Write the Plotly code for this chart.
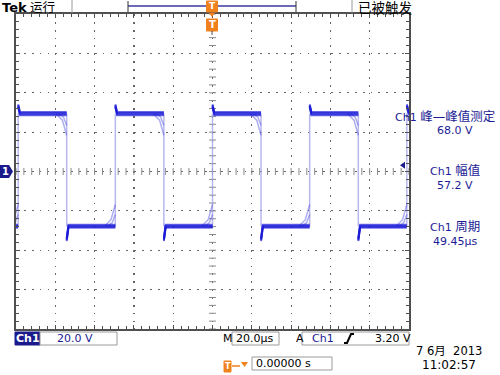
import plotly.graph_objects as go

W, H = 500, 375

# ---------------- data ----------------
rise_times_us = [-98.9, -49.45, 0.0, 49.45, 98.9]
fall_times_us = [-74.2, -24.75, 24.7, 74.2]
high_level_v = 29.4
low_level_v = -27.8
overshoot_v = 33.4
undershoot_v = -34.6
capture_offsets_v = [-0.8, -0.4, 0.0, 0.4, 0.8]
tail_dt_us = [4.0, 5.5]
tail_dv_v = [6.0, 11.0]
trigger_level_v = 3.20
x_range_us = [-100, 100]   # 20 µs/div, 10 div
y_range_v = [-80, 80]      # 20 V/div, 8 div

measure_labels = ["峰—峰值测定", "幅值", "周期"]
measure_values = ["68.0 V", "57.2 V", "49.45µs"]
ch1_scale = "20.0 V"
time_scale = "20.0µs"
trig_level_txt = "3.20 V"
trig_pos_txt = "0.00000 s"
date_txt = "7 6月  2013"
time_txt = "11:02:57"

NAVY = "#1a1a8c"
TXT = "#1c1c96"
ORANGE = "#f0821e"
FONT = "DejaVu Sans, Noto Sans CJK SC"


def px(x):
    return x / W


def py(y):
    return 1 - y / H


fig = go.Figure()

# centre cross tick marks
cross_x = [x_range_us[0] + 4 * i for i in range(51)]
cross_y = [y_range_v[0] + 4 * i for i in range(41)]
fig.add_trace(go.Scatter(x=cross_x, y=[0] * len(cross_x), mode="markers",
                         marker=dict(symbol="line-ns", size=5, line=dict(width=1, color="#8a8a8a")),
                         hoverinfo="skip"))
fig.add_trace(go.Scatter(x=[0] * len(cross_y), y=cross_y, mode="markers",
                         marker=dict(symbol="line-ew", size=5, line=dict(width=1, color="#8a8a8a")),
                         hoverinfo="skip"))

edges = sorted([(t, "r") for t in rise_times_us] + [(t, "f") for t in fall_times_us])

# faint vertical edges
ex, ey = [], []
for t, k in edges:
    ex += [t, t, None]
    ey += [low_level_v, high_level_v, None]
fig.add_trace(go.Scatter(x=ex, y=ey, mode="lines",
                         line=dict(color="rgba(160,160,232,0.75)", width=1.5), hoverinfo="skip"))

# sag / jitter tails before edges
tx, ty = [], []
for t, k in edges:
    for dt, dv in zip(tail_dt_us, tail_dv_v):
        if k == "f":
            tx += [t - dt, t - dt * 0.4, t, None]
            ty += [high_level_v, high_level_v - dv * 0.3, high_level_v - dv, None]
        else:
            tx += [t - dt, t - dt * 0.4, t, None]
            ty += [low_level_v, low_level_v + dv * 0.3, low_level_v + dv, None]
fig.add_trace(go.Scatter(x=tx, y=ty, mode="lines",
                         line=dict(color="rgba(50,50,220,0.4)", width=1.5), hoverinfo="skip"))

# persistence captures of the levels
for off in capture_offsets_v:
    xs, ys = [], []
    cur = low_level_v
    xs.append(x_range_us[0]); ys.append(cur + off)
    for t, k in edges:
        xs += [t, None]
        ys += [cur + off, None]
        if k == "r":
            new, spike = high_level_v, overshoot_v
        else:
            new, spike = low_level_v, undershoot_v
        xs += [t, t + 0.9]
        ys += [spike + off, new + off]
        cur = new
    xs.append(x_range_us[1]); ys.append(cur + off)
    fig.add_trace(go.Scatter(x=xs, y=ys, mode="lines",
                             line=dict(color="rgba(25,25,215,0.6)", width=2), hoverinfo="skip"))

axis_common = dict(showticklabels=False, showline=True, linecolor="#505050", linewidth=2,
                   mirror="allticks", ticks="inside", ticklen=4, tickcolor="#505050",
                   showgrid=True, gridcolor="#666666", gridwidth=1.2, zeroline=False,
                   fixedrange=True)
fig.update_xaxes(range=x_range_us, domain=[px(16), px(409)], dtick=20, tick0=0,
                 griddash="1.8px,6.06px",
                 minor=dict(ticks="inside", dtick=4, ticklen=3, tickcolor="#505050", showgrid=False),
                 **axis_common)
fig.update_yaxes(range=y_range_v, domain=[py(329), py(14)], dtick=20, tick0=0,
                 griddash="1.8px,6.08px",
                 minor=dict(ticks="inside", dtick=4, ticklen=3, tickcolor="#505050", showgrid=False),
                 **axis_common)

shapes = []
ann = []


def text(x, y, s, size=11, color="black", anchor="center", bold=False):
    ann.append(dict(x=px(x), y=py(y), xref="paper", yref="paper", text=s, showarrow=False,
                    xanchor=anchor, yanchor="middle",
                    font=dict(family=FONT, size=size, color=color, weight="bold" if bold else "normal")))


def rect(x0, y0, x1, y1, fill="white", line="#9a9a9a", lw=1):
    shapes.append(dict(type="rect", xref="paper", yref="paper",
                       x0=px(x0), x1=px(x1), y0=py(y1), y1=py(y0),
                       fillcolor=fill, line=dict(color=line, width=lw), layer="above"))


def line(x0, y0, x1, y1, color="#9a9a9a", lw=1):
    shapes.append(dict(type="line", xref="paper", yref="paper",
                       x0=px(x0), x1=px(x1), y0=py(y0), y1=py(y1),
                       line=dict(color=color, width=lw), layer="above"))


def path(pts, fill, color=None, lw=0):
    p = "M " + " L ".join(f"{px(a):.5f},{py(b):.5f}" for a, b in pts) + " Z"
    shapes.append(dict(type="path", xref="paper", yref="paper", path=p,
                       fillcolor=fill, line=dict(color=color or fill, width=lw), layer="above"))


# top status bar
text(0, 8, "Tek", size=13, bold=True, anchor="left")
text(28, 8, "运行", size=12.5, anchor="left")
line(72, 0, 72, 13)
line(128, 6, 296, 6, color="#3a3a9a", lw=1.5)
line(128, 1, 128, 12, color="#333333", lw=1)
line(296, 1, 296, 12, color="#333333", lw=1)
line(352, 0, 352, 13)
text(356, 8, "已被触发", size=13.5, anchor="left")

# trigger position markers
rect(206.5, 1, 217.5, 12, fill=ORANGE, line=ORANGE)
text(212, 6.5, "T", size=9, color="white", bold=True)
path([(209, 13), (215, 13), (212, 17)], ORANGE)
rect(206.5, 19, 217.5, 31, fill=ORANGE, line=ORANGE)
text(212, 25, "T", size=10, color="white", bold=True)
line(212, 31, 212, 35, color="#555555", lw=1)

# channel ground marker
path([(0, 165), (9, 165), (13, 171.5), (9, 178), (0, 178)], NAVY)
text(5.5, 171.5, "1", size=10, color="white", bold=True)

# trigger level marker
ylev = 171.5 - trigger_level_v / 20 * 39.375
path([(400, ylev), (405, ylev - 3.5), (405, ylev + 3.5)], NAVY)

# measurements
meas_y = [(116, 130), (170, 185), (227, 241)]
for i, (lab, val) in enumerate(zip(measure_labels, measure_values)):
    cx = 445 if i == 0 else 455
    text(cx, meas_y[i][0], f"Ch1 <span style='font-size:12.5px'>{lab}</span>", size=11, color=TXT)
    text(455, meas_y[i][1], val, size=11, color=TXT)

# bottom status
rect(15, 332, 40, 345, fill=NAVY, line=NAVY)
text(27.5, 338.5, "Ch1", size=11, color="white", bold=True)
rect(40, 332, 117, 345)
text(55, 338.5, ch1_scale, size=11, color=TXT, anchor="left")
text(221, 338.5, "M", size=11, anchor="left")
rect(232, 332, 279, 345)
text(234, 338.5, time_scale, size=11, anchor="left")
text(294, 338.5, "A", size=11, anchor="left")
rect(302, 332, 409, 345)
text(310, 338.5, "Ch1", size=11, color=TXT, anchor="left")
shapes.append(dict(type="path", xref="paper", yref="paper",
                   path=f"M {px(344)},{py(343)} L {px(347)},{py(343)} L {px(351)},{py(334)} L {px(354)},{py(334)}",
                   line=dict(color="black", width=2), layer="above"))
text(373, 338.5, trig_level_txt, size=11, anchor="left")

text(414, 351, date_txt, size=11.5, anchor="left")
text(420, 364.5, time_txt, size=12, anchor="left")

rect(224, 361, 231, 372, fill=ORANGE, line=ORANGE)
text(227.5, 366.5, "T", size=8, color="white", bold=True)
line(232, 366, 240, 366, color=ORANGE, lw=1.5)
path([(241, 362), (248, 362), (244.5, 367)], ORANGE)
rect(252, 357, 332, 370)
text(254, 363.5, trig_pos_txt, size=11, anchor="left")

fig.update_layout(width=W, height=H, margin=dict(l=0, r=0, t=0, b=0),
                  paper_bgcolor="white", plot_bgcolor="white", showlegend=False,
                  shapes=shapes, annotations=ann)

fig.write_html("out.html", config={"displayModeBar": False, "staticPlot": True},
               post_script="document.body.style.margin='0';document.body.style.padding='0';")
